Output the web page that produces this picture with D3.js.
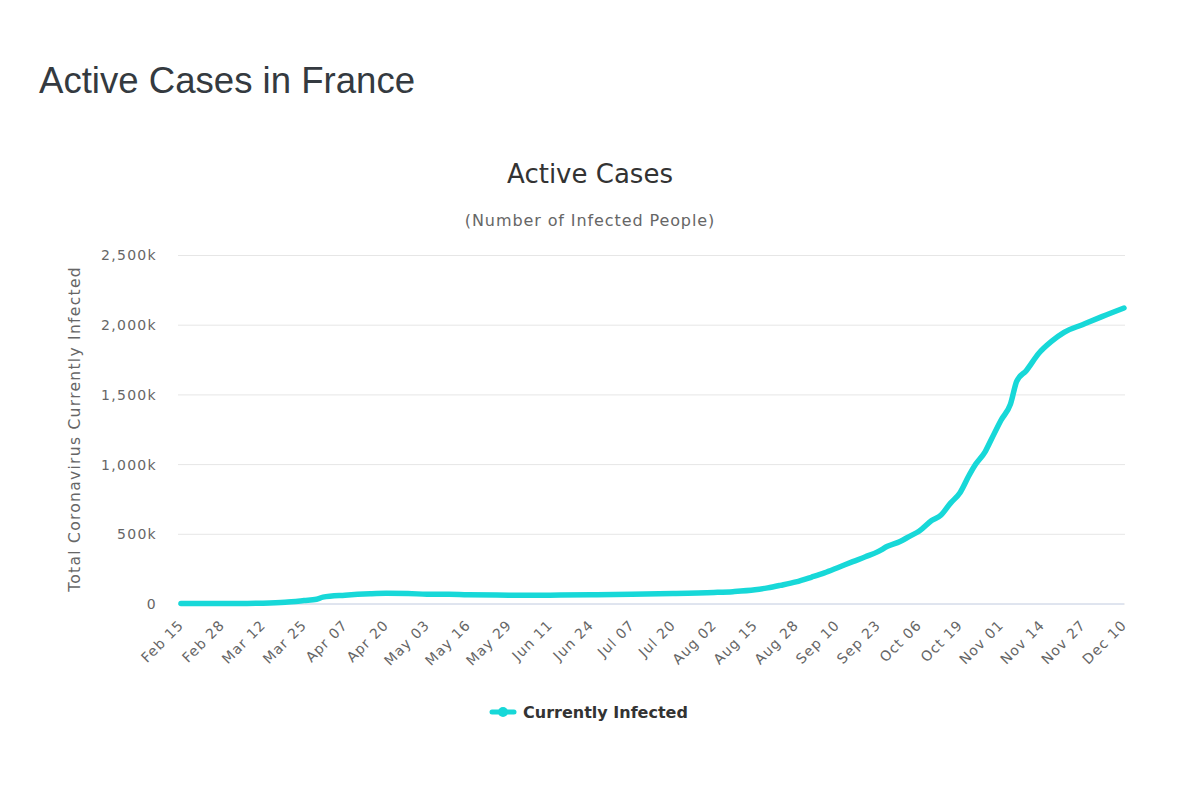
<!DOCTYPE html>
<html>
<head>
<meta charset="utf-8">
<script src="https://cdn.jsdelivr.net/npm/d3@7"></script>
<style>
  html, body { margin: 0; padding: 0; background: #fff; }
  svg { display: block; }
</style>
</head>
<body>
<svg id="chart" width="1200" height="794"></svg>
<script>
// ---- Data ----
const pageTitle = "Active Cases in France";
const chartTitle = "Active Cases";
const chartSubtitle = "(Number of Infected People)";
const yAxisTitle = "Total Coronavirus Currently Infected";
const seriesName = "Currently Infected";

const xTickLabels = ["Feb 15","Feb 28","Mar 12","Mar 25","Apr 07","Apr 20","May 03","May 16",
  "May 29","Jun 11","Jun 24","Jul 07","Jul 20","Aug 02","Aug 15","Aug 28","Sep 10","Sep 23",
  "Oct 06","Oct 19","Nov 01","Nov 14","Nov 27","Dec 10"];

const yTickValues = [0, 500000, 1000000, 1500000, 2000000, 2500000];

const sampleDates = ["Feb 15","Feb 22","Mar 01","Mar 07","Mar 12","Mar 19","Mar 25","Mar 29",
  "Mar 31","Apr 07","Apr 15","Apr 20","Apr 27","May 03","May 10","May 16","May 29","Jun 11",
  "Jun 24","Jul 07","Jul 20","Aug 02","Aug 08","Aug 15","Aug 19","Aug 23","Aug 28","Sep 02",
  "Sep 06","Sep 10","Sep 15","Sep 19","Sep 23","Sep 26","Sep 30","Oct 03","Oct 06","Oct 10",
  "Oct 13","Oct 16","Oct 19","Oct 22","Oct 24","Oct 27","Oct 29","Nov 01","Nov 04","Nov 06",
  "Nov 09","Nov 13","Nov 17","Nov 21","Nov 27","Dec 03","Dec 10"];

const activeCases = [10, 30, 100, 600, 2500, 9000, 21000, 30000,
  46000, 60000, 70000, 73000, 72000, 66000, 67000, 62000, 60000, 60000,
  62000, 66000, 71000, 79000, 85000, 98000, 112000, 130000, 155000, 190000,
  220000, 255000, 300000, 335000, 372000, 410000, 445000, 482000, 518000, 595000,
  635000, 720000, 795000, 925000, 1000000, 1090000, 1180000, 1315000, 1430000, 1595000,
  1670000, 1795000, 1880000, 1945000, 2002000, 2058000, 2120000];

// ---- Rendering ----
const parse = d3.timeParse("%b %d %Y");
const toDate = s => parse(s + " 2020");
const data = sampleDates.map((d, i) => ({ date: toDate(d), value: activeCases[i] }));

const svg = d3.select("#chart");
const margin = { left: 181, right: 1124, top: 255, bottom: 603.5 };
const lineColor = "#17d8d8";
const chartFont = "'DejaVu Sans', Verdana, sans-serif";

const x = d3.scaleTime()
  .domain([toDate(xTickLabels[0]), toDate(xTickLabels[xTickLabels.length - 1])])
  .range([margin.left, margin.right]);
const y = d3.scaleLinear().domain([0, 2500000]).range([margin.bottom, margin.top]);

// Page title
svg.append("text")
  .attr("x", 39).attr("y", 93)
  .attr("font-family", "'Liberation Sans', Arial, sans-serif")
  .attr("font-size", 36.6)
  .attr("fill", "#343a40")
  .text(pageTitle);

// Chart title & subtitle
svg.append("text")
  .attr("x", 590).attr("y", 183)
  .attr("text-anchor", "middle")
  .attr("font-family", chartFont)
  .attr("font-size", 26)
  .attr("fill", "#333333")
  .text(chartTitle);

svg.append("text")
  .attr("x", 590).attr("y", 226)
  .attr("text-anchor", "middle")
  .attr("font-family", chartFont)
  .attr("font-size", 16)
  .attr("letter-spacing", 0.9)
  .attr("fill", "#666666")
  .text(chartSubtitle);

// Gridlines
const yAxis = d3.axisLeft(y)
  .tickValues(yTickValues)
  .tickSize(-(margin.right - margin.left + 4))
  .tickPadding(20)
  .tickFormat(d => d === 0 ? "0" : d3.format(",")(d / 1000) + "k");

const gy = svg.append("g")
  .attr("transform", `translate(${margin.left - 3},0)`)
  .call(yAxis);
gy.select(".domain").remove();
gy.selectAll(".tick line").attr("stroke", "#e6e6e6").attr("stroke-width", 1);
gy.selectAll(".tick text")
  .attr("font-family", chartFont)
  .attr("font-size", 14)
  .attr("letter-spacing", 1.3)
  .attr("fill", "#666666")
  .attr("x", -21)
  .attr("dy", "0.35em");

// X axis
const xAxis = d3.axisBottom(x)
  .tickValues(xTickLabels.map(toDate))
  .tickSize(0)
  .tickPadding(0)
  .tickFormat(d3.timeFormat("%b %d"));

const gx = svg.append("g")
  .attr("transform", `translate(0,${margin.bottom + 0.5})`)
  .call(xAxis);
gx.select(".domain")
  .attr("d", `M${margin.left - 3},0H${margin.right}`)
  .attr("stroke", "#ccd6eb");
gx.selectAll(".tick text")
  .attr("font-family", chartFont)
  .attr("font-size", 14)
  .attr("letter-spacing", 1)
  .attr("fill", "#666666")
  .attr("text-anchor", "end")
  .attr("y", 0)
  .attr("dy", 0)
  .attr("transform", "translate(3,22) rotate(-45)");

// Y axis title
svg.append("text")
  .attr("transform", "translate(80,429) rotate(-90)")
  .attr("text-anchor", "middle")
  .attr("font-family", chartFont)
  .attr("font-size", 15.5)
  .attr("letter-spacing", 1.3)
  .attr("fill", "#666666")
  .text(yAxisTitle);

// Line
const line = d3.line()
  .x(d => x(d.date))
  .y(d => y(d.value))
  .curve(d3.curveMonotoneX);

svg.append("path")
  .datum(data)
  .attr("d", line)
  .attr("fill", "none")
  .attr("stroke", lineColor)
  .attr("stroke-width", 5.5)
  .attr("stroke-linejoin", "round")
  .attr("stroke-linecap", "round");

// Legend
const lg = svg.append("g").attr("transform", "translate(490,712)");
lg.append("line").attr("x1", 2).attr("x2", 24).attr("y1", 0).attr("y2", 0)
  .attr("stroke", lineColor).attr("stroke-width", 5).attr("stroke-linecap", "round");
lg.append("circle").attr("cx", 13).attr("cy", 0).attr("r", 5).attr("fill", lineColor);
lg.append("text")
  .attr("x", 33).attr("y", 0).attr("dy", "0.35em")
  .attr("font-family", chartFont)
  .attr("font-size", 16)
  .attr("font-weight", "bold")
  .attr("fill", "#333333")
  .text(seriesName);
</script>
</body>
</html>
